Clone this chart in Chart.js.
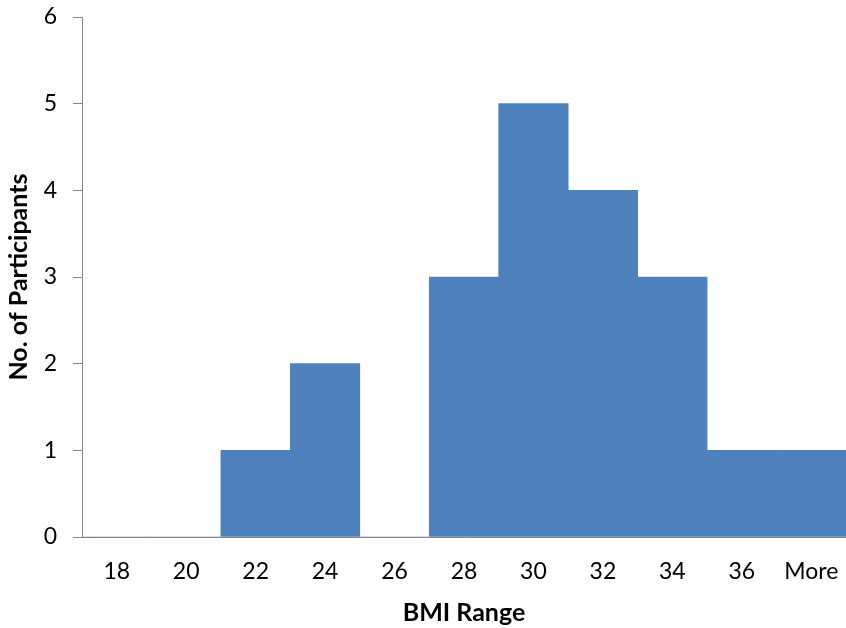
<!DOCTYPE html>
<html>
<head>
<meta charset="utf-8">
<script src="https://cdn.jsdelivr.net/npm/chart.js@4"></script>
<style>
html,body{margin:0;padding:0;background:#fff;}
#wrap{width:846px;height:628px;position:relative;}
</style>
</head>
<body>
<div id="wrap"><canvas id="c" width="846" height="628"></canvas></div>
<script>
const categories = ["18","20","22","24","26","28","30","32","34","36","More"];
const participants = [0,0,1,2,0,3,5,4,3,1,1];
const yTicks = [0,1,2,3,4,5,6];

const axisColor = '#868686';
const fontFamily = 'Lato, "Open Sans", sans-serif';

new Chart(document.getElementById('c'), {
  type: 'bar',
  data: {
    labels: categories,
    datasets: [{
      label: 'No. of Participants',
      data: participants,
      backgroundColor: '#4F81BD',
      borderWidth: 0,
      barPercentage: 1.0,
      categoryPercentage: 1.0
    }]
  },
  options: {
    responsive: false,
    animation: false,
    devicePixelRatio: 1,
    layout: { padding: { top: 17, right: 0, left: 0, bottom: 0 } },
    plugins: { legend: { display: false }, tooltip: { enabled: false } },
    scales: {
      x: {
        grid: { drawOnChartArea: false, drawTicks: false, color: axisColor },
        border: { display: true, color: axisColor, width: 1 },
        ticks: { color: '#000', font: { family: fontFamily, size: 23 }, padding: 21, maxRotation: 0, autoSkip: false },
        title: { display: true, text: 'BMI Range', color: '#000', font: { family: fontFamily, size: 25, weight: 'bold' }, padding: { top: 0, bottom: 0 } },
        afterFit: (s) => { s.height = 91; s.paddingLeft = 0; s.paddingRight = 0; }
      },
      y: {
        min: 0, max: 6,
        afterBuildTicks: (s) => { s.ticks = yTicks.map(v => ({ value: v })); },
        grid: { drawOnChartArea: false, drawTicks: true, tickLength: 9, color: axisColor },
        border: { display: true, color: axisColor, width: 1 },
        ticks: { color: '#000', font: { family: fontFamily, size: 23 }, padding: 16 },
        title: { display: true, text: 'No. of Participants', color: '#000', font: { family: fontFamily, size: 25, weight: 'bold' }, padding: { top: 4, bottom: 0 } },
        afterFit: (s) => { s.width = 82; s.paddingTop = 0; s.paddingBottom = 0; }
      }
    }
  }
});
</script>
</body>
</html>
